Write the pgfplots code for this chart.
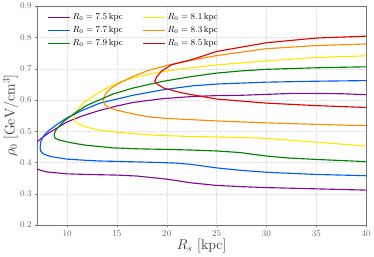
\documentclass[border=0pt]{standalone}
\usepackage{pgfplots}
\pgfplotsset{compat=1.18}
\definecolor{cpurple}{RGB}{130,10,150}
\definecolor{cblue}{RGB}{0,90,255}
\definecolor{cgreen}{RGB}{0,128,0}
\definecolor{cyellow}{RGB}{255,232,0}
\definecolor{corange}{RGB}{255,140,0}
\definecolor{cred}{RGB}{230,0,0}
\begin{document}
\begin{tikzpicture}
\begin{axis}[
  width=335pt, height=223pt, scale only axis,
  xmin=7, xmax=40, ymin=0.2, ymax=0.9,
  xtick={10,15,20,25,30,35,40},
  ytick={0.2,0.3,0.4,0.5,0.6,0.7,0.8,0.9},
  yticklabel style={/pgf/number format/.cd,fixed,fixed zerofill,precision=1},
  tick label style={font=\small, text=black!60},
  axis line style={black!55},
  tick style={black!55},
  tick align=outside, major tick length=2pt,
  xtick pos=bottom, ytick pos=left,
  grid=major, major grid style={black!12, densely dotted},
  xlabel={$R_s$ [kpc]}, ylabel={$\rho_0\ [\mathrm{GeV/cm^3}]$},
  label style={font=\Large, text=black!80},
  xlabel style={yshift=4pt}, ylabel style={yshift=-5pt},
  legend columns=2,
  legend cell align=left,
  legend style={draw=none, fill=none, font=\small, at={(0.022,0.985)}, anchor=north west,
    /tikz/every even column/.append style={column sep=18pt}, row sep=1.5pt},
  every axis plot/.append style={line width=1.15pt},
]
\addplot[cpurple, forget plot] table {
40 0.312
35 0.316
30 0.320
27.5 0.323
25 0.327
22.5 0.335
20 0.347
18.5 0.352
17 0.357
15 0.360
12 0.362
10 0.364
9 0.367
8 0.370
7.5 0.374
7.0 0.379
6.5 0.420
7.0 0.467
7.5 0.479
8.0 0.491
8.7 0.505
10 0.530
11.6 0.550
13.3 0.567
14.6 0.578
16.6 0.592
19.5 0.604
22.5 0.611
25 0.614
27.5 0.615
30 0.618
32.5 0.621
35 0.621
37.5 0.620
40 0.617
};
\addplot[cyellow, forget plot] table {
40 0.453
37.5 0.459
35 0.465
33 0.470
30 0.477
28 0.480
25 0.482
22.5 0.483
18.5 0.488
15 0.497
13 0.505
12 0.513
11.2 0.522
10.8 0.532
10.7 0.545
10.9 0.562
11.6 0.590
12.6 0.612
13.8 0.635
14.6 0.648
16.6 0.671
19.2 0.689
22.1 0.702
25 0.712
30 0.725
35 0.736
40 0.741
};
\addplot[cblue, forget plot] table {
40 0.358
35 0.362
30 0.369
27.5 0.375
25 0.383
22.5 0.394
21 0.398
19.5 0.400
16 0.403
13.3 0.405
12 0.407
10 0.411
8.4 0.419
8.0 0.423
7.6 0.428
7.35 0.437
7.3 0.447
7.35 0.465
7.6 0.483
8.0 0.498
9 0.522
10 0.543
11.6 0.568
13.3 0.590
16.6 0.615
19.5 0.632
22.5 0.645
25 0.651
30 0.657
35 0.660
40 0.662
};
\addplot[corange, forget plot] table {
40 0.518
35 0.522
30 0.527
25 0.533
22.5 0.537
20 0.541
18.5 0.545
17 0.553
16 0.560
15 0.567
14.2 0.576
13.8 0.585
13.6 0.600
13.9 0.622
14.5 0.640
15.3 0.655
16.6 0.675
18.2 0.695
20.2 0.712
22.5 0.727
25 0.742
30 0.764
35 0.774
40 0.779
};
\addplot[cgreen, forget plot] table {
40 0.403
35 0.410
32 0.415
30 0.421
28.5 0.427
27.4 0.432
25 0.437
22.5 0.440
20 0.442
17 0.444
14.6 0.447
12 0.455
11 0.460
10 0.466
9.2 0.472
8.8 0.478
8.7 0.490
8.9 0.505
9.2 0.516
9.7 0.533
11 0.563
12 0.583
13.3 0.601
14.6 0.619
16.6 0.638
19.5 0.659
22.5 0.675
25 0.686
27.5 0.693
30 0.698
35 0.703
40 0.706
};
\addplot[cred, forget plot] table {
40 0.576
35 0.582
30 0.590
25 0.603
22.5 0.617
21.5 0.623
19.7 0.638
19.0 0.652
18.8 0.660
19.0 0.675
19.5 0.693
20.5 0.713
22.5 0.729
25 0.755
30 0.783
35 0.798
40 0.804
};
\addlegendimage{cpurple, line width=1.5pt, legend image code/.code={\draw[cpurple, line width=1.5pt] (0pt,0pt) -- (22pt,0pt);}}
\addlegendentry{$R_0 = 7.5\,\mathrm{kpc}$}
\addlegendimage{cyellow, line width=1.5pt, legend image code/.code={\draw[cyellow, line width=1.5pt] (0pt,0pt) -- (22pt,0pt);}}
\addlegendentry{$R_0 = 8.1\,\mathrm{kpc}$}
\addlegendimage{cblue, line width=1.5pt, legend image code/.code={\draw[cblue, line width=1.5pt] (0pt,0pt) -- (22pt,0pt);}}
\addlegendentry{$R_0 = 7.7\,\mathrm{kpc}$}
\addlegendimage{corange, line width=1.5pt, legend image code/.code={\draw[corange, line width=1.5pt] (0pt,0pt) -- (22pt,0pt);}}
\addlegendentry{$R_0 = 8.3\,\mathrm{kpc}$}
\addlegendimage{cgreen, line width=1.5pt, legend image code/.code={\draw[cgreen, line width=1.5pt] (0pt,0pt) -- (22pt,0pt);}}
\addlegendentry{$R_0 = 7.9\,\mathrm{kpc}$}
\addlegendimage{cred, line width=1.5pt, legend image code/.code={\draw[cred, line width=1.5pt] (0pt,0pt) -- (22pt,0pt);}}
\addlegendentry{$R_0 = 8.5\,\mathrm{kpc}$}
\end{axis}
\end{tikzpicture}
\end{document}
